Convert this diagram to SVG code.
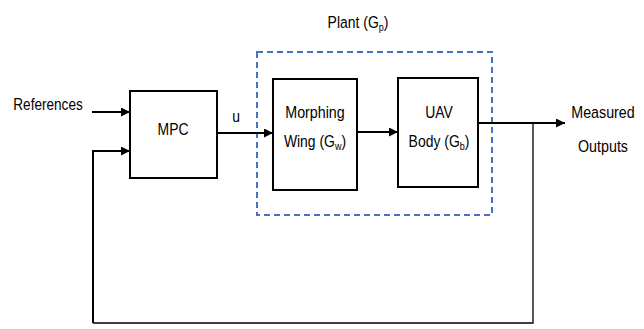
<svg xmlns="http://www.w3.org/2000/svg" width="644" height="329" viewBox="0 0 644 329">
<style>
.box{fill:#fff;stroke:#000;stroke-width:2}
.t{font-family:"Liberation Sans",Arial,sans-serif;font-size:17px;fill:#000;text-anchor:middle}
.s{font-size:11px}
.ln{fill:none;stroke:#000;stroke-width:2}
.fb{fill:none;stroke:#000;stroke-width:1.3}
</style>
<defs>
<marker id="ah" viewBox="0 0 10 10" refX="10" refY="5" markerWidth="9" markerHeight="9" markerUnits="userSpaceOnUse" orient="auto">
<path d="M0,0 L10,5 L0,10 z" fill="#000"/>
</marker>
</defs>
<rect width="644" height="329" fill="#fff"/>
<g id="plant">
<rect x="257" y="52" width="235" height="163" fill="none" stroke="#4472c4" stroke-width="2" stroke-dasharray="6,4"/>
<text class="t" transform="translate(358,28) scale(0.82,1)">Plant (G<tspan class="s" dy="3">p</tspan><tspan dy="-3">)</tspan></text>
</g>
<g id="connectors">
<line class="ln" x1="92" y1="112" x2="130" y2="112" marker-end="url(#ah)"/>
<polyline class="ln" points="93,323 93,151 130,151" marker-end="url(#ah)"/>
<line class="ln" x1="217" y1="133" x2="273" y2="133" marker-end="url(#ah)"/>
<line class="ln" x1="357" y1="132" x2="398" y2="132" marker-end="url(#ah)"/>
<line class="ln" x1="478" y1="123" x2="565" y2="123" marker-end="url(#ah)"/>
<polyline class="fb" points="533,123 533,323 93,323"/>
</g>
<g id="references"><text class="t" transform="translate(48,110) scale(0.8,1)">References</text></g>
<g id="u"><text class="t" transform="translate(236,122) scale(0.82,1)">u</text></g>
<g id="mpc">
<rect class="box" x="130" y="91" width="87" height="87"/>
<text class="t" transform="translate(173,135) scale(0.82,1)">MPC</text>
</g>
<g id="wing">
<rect class="box" x="273" y="79" width="84" height="111"/>
<text class="t" transform="translate(315,118) scale(0.84,1)">Morphing</text>
<text class="t" transform="translate(315,147) scale(0.82,1)">Wing (G<tspan class="s" dy="3">w</tspan><tspan dy="-3">)</tspan></text>
</g>
<g id="uav">
<rect class="box" x="398" y="78" width="80" height="109"/>
<text class="t" transform="translate(439,118) scale(0.82,1)">UAV</text>
<text class="t" transform="translate(439,147) scale(0.82,1)">Body (G<tspan class="s" dy="3">b</tspan><tspan dy="-3">)</tspan></text>
</g>
<g id="outputs">
<text class="t" transform="translate(603,118) scale(0.84,1)">Measured</text>
<text class="t" transform="translate(603,152) scale(0.84,1)">Outputs</text>
</g>
</svg>
